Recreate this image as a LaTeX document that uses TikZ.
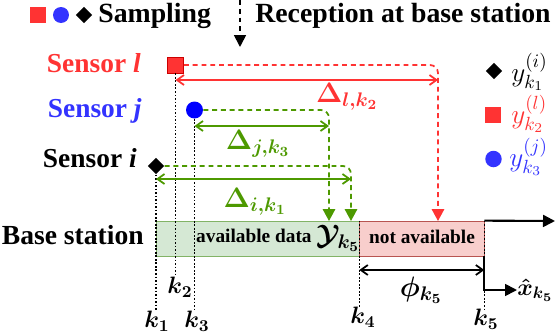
\RequirePackage{fix-cm}
\documentclass[tikz,border=0pt]{standalone}
\usepackage{fontspec}
\setmainfont{Liberation Serif}
\usepackage{tikz}
\usetikzlibrary{arrows.meta,positioning,shapes.geometric}

\definecolor{sensred}{RGB}{255,51,51}
\definecolor{sensblue}{RGB}{51,51,255}
\definecolor{dgreen}{RGB}{77,153,0}
\definecolor{availfill}{RGB}{213,232,212}
\definecolor{availline}{RGB}{130,179,102}
\definecolor{nafill}{RGB}{248,206,204}
\definecolor{naline}{RGB}{184,84,80}
\newcommand{\fsz}[1]{\fontsize{#1}{#1}\selectfont}

\begin{document}
\begin{tikzpicture}[x=0.02cm,y=-0.02cm,>=Latex,
  sqmark/.style={rectangle,fill=sensred,minimum size=3.2mm,inner sep=0pt},
  dotmark/.style={circle,fill=sensblue,minimum size=3.2mm,inner sep=0pt},
  diamark/.style={diamond,fill=black,minimum size=3.3mm,inner sep=0pt},
  toptext/.style={font=\fsz{15.8}\bfseries,inner sep=0pt,anchor=base west},
  senstext/.style={font=\fsz{15.6}\bfseries,inner sep=0pt,anchor=base east},
  bartext/.style={font=\fsz{11}\bfseries,inner sep=0pt,anchor=base},
  klab/.style={font=\fsz{13.5}\boldmath,inner sep=0pt},
  dlab/.style={font=\fsz{16}\boldmath,inner sep=0pt},
  ylab/.style={font=\fsz{15.5},inner sep=0pt,anchor=west},
  dotline/.style={line width=0.9pt,dash pattern=on 1pt off 1pt},
  dropline/.style={line width=1pt,dash pattern=on 2.8pt off 2.2pt,rounded corners=1.6mm,-{Triangle[length=2.4mm,width=2.5mm]}},
  spanarrow/.style={line width=1pt,{Straight Barb[length=1.4mm,width=2mm]}-{Straight Barb[length=1.4mm,width=2mm]}},
  fwdarrow/.style={line width=1.2pt,-{Triangle[length=2.4mm,width=2.4mm]}}
]
\useasboundingbox (0,0) rectangle (556,332);

% legend on top
\node[sqmark] (lg_sq) at (38,15) {};
\node[dotmark] (lg_dot) at (61,15) {};
\node[diamark] (lg_dia) at (84,15) {};
\node[toptext] (lg_samp) at (98,22) {Sampling};
\coordinate (rc_top) at (240,0);
\coordinate (rc_tip) at (240,47);
\draw[line width=1pt,dash pattern=on 2.8pt off 2.2pt,-{Triangle[length=2.4mm,width=2.4mm]}] (rc_top) -- (rc_tip);
\node[toptext] (lg_rec) at (255,22) {Reception at base station};

% sensors and samples
\node[senstext,text=sensred] (s_l) at (141,72) {Sensor \textit{l}};
\node[senstext,text=sensblue] (s_j) at (142,117) {Sensor \textit{j}};
\node[senstext] (s_i) at (137,167) {Sensor \textit{i}};
\node[sqmark,draw=red!80!black,line width=0.5pt] (m_l) at (175.5,65) {};
\node[dotmark,fill=blue,minimum size=3.4mm] (m_j) at (194.5,110) {};
\node[diamark] (m_i) at (156,166) {};

% base station
\node[font=\fsz{15.7}\bfseries,inner sep=0pt,anchor=base east] (bs) at (144,244) {Base station};
\node[draw=availline,fill=availfill,minimum width=4.06cm,minimum height=0.7cm,inner sep=0pt] (avail) at (257.5,238.5) {};
\node[draw=naline,fill=nafill,minimum width=2.5cm,minimum height=0.7cm,inner sep=0pt] (nav) at (421.5,238.5) {};
\node[bartext,anchor=base east] (avtxt) at (312,242) {available data};
\node[dlab] (ysym) at (338,238) {$\mathcal{Y}_{k_5}$};
\node[bartext] (natxt) at (422,243) {not available};

% time instants
\node[klab] (k1) at (157,321) {$k_1$};
\node[klab] (k2) at (180,287) {$k_2$};
\node[klab] (k3) at (197,321) {$k_3$};
\node[klab] (k4) at (363,317) {$k_4$};
\node[klab] (k5) at (486,319) {$k_5$};
\draw[dotline] (m_i.south) -- (m_i |- k1.north);
\draw[dotline] (m_l.south) -- (m_l |- k2.north);
\draw[dotline] (m_j.south) -- (m_j |- k3.north);
\draw[dotline] (avail.north east) -- (avail.north east |- k4.north);
\draw[dotline] (nav.north east) -- (nav.north east |- k5.north);

% delays
\coordinate (in_l) at (438,221);
\coordinate (in_j) at (329,221);
\coordinate (in_i) at (351,221);
\draw[dropline,sensred] (m_l.east) -| (in_l);
\draw[dropline,dgreen] (m_j.east) -| (in_j);
\draw[dropline,dgreen] (m_i.east) -| (in_i);
\draw[spanarrow,sensred] (m_l |- 0,80) -- (in_l |- 0,80);
\draw[spanarrow,dgreen] (m_j |- 0,126) -- (in_j |- 0,126);
\draw[spanarrow,dgreen] (m_i |- 0,179) -- (in_i |- 0,179);
\node[dlab,text=sensred] (d_l) at (347,97) {$\Delta_{l,k_2}$};
\node[dlab,text=dgreen] (d_j) at (258,144) {$\Delta_{j,k_3}$};
\node[dlab,text=dgreen] (d_i) at (255,202) {$\Delta_{i,k_1}$};

% time axis and estimate
\coordinate (t_end) at (555,221);
\draw[fwdarrow] (nav.north east) -- (t_end);
\draw[spanarrow] (avail.south east |- 0,270) -- (nav.south east |- 0,270);
\node[dlab] (phi) at (421,290) {$\phi_{k_5}$};
\node[klab,anchor=west] (xh) at (517,290) {$\hat{x}_{k_5}$};
\draw[fwdarrow,line width=1pt] (nav.south east) |- (xh.west);

% legend on the right
\node[diamark] (r_dia) at (494,71) {};
\node[sqmark] (r_sq) at (493,115) {};
\node[dotmark,minimum size=3.3mm] (r_dot) at (493.5,159) {};
\node[ylab] (r_yi) at (511,72) {$y^{(i)}_{k_1}$};
\node[ylab,text=sensred] (r_yl) at (511,114) {$y^{(l)}_{k_2}$};
\node[ylab,text=sensblue] (r_yj) at (509,157) {$y^{(j)}_{k_3}$};
\end{tikzpicture}
\end{document}
